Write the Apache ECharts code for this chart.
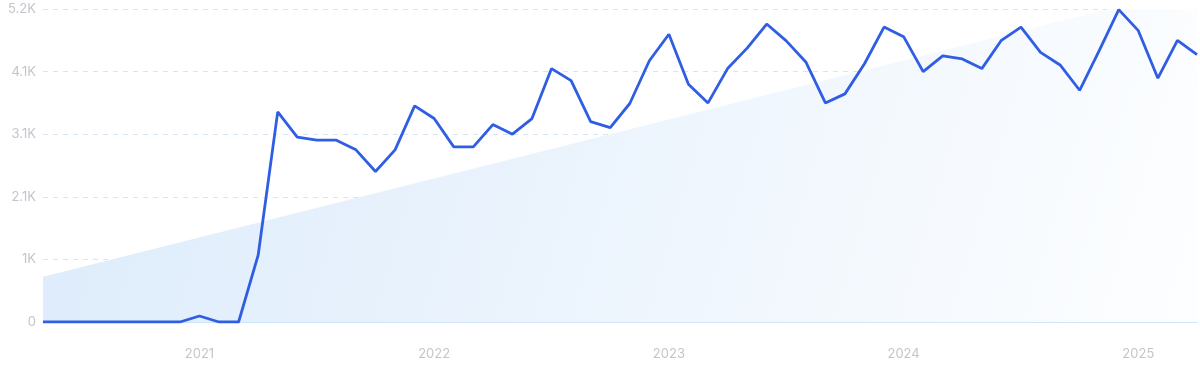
<!DOCTYPE html>
<html>
<head>
<meta charset="utf-8">
<script src="https://cdn.jsdelivr.net/npm/echarts@6/dist/echarts.min.js"></script>
<style>
html,body{margin:0;padding:0;background:#fff;}
#chart{width:1200px;height:371px;}
</style>
</head>
<body>
<div id="chart"></div>
<script>
// Monthly categories May 2020 - Apr 2025
var categories = [
  '2020-05','2020-06','2020-07','2020-08','2020-09','2020-10','2020-11','2020-12',
  '2021-01','2021-02','2021-03','2021-04','2021-05','2021-06','2021-07','2021-08','2021-09','2021-10','2021-11','2021-12',
  '2022-01','2022-02','2022-03','2022-04','2022-05','2022-06','2022-07','2022-08','2022-09','2022-10','2022-11','2022-12',
  '2023-01','2023-02','2023-03','2023-04','2023-05','2023-06','2023-07','2023-08','2023-09','2023-10','2023-11','2023-12',
  '2024-01','2024-02','2024-03','2024-04','2024-05','2024-06','2024-07','2024-08','2024-09','2024-10','2024-11','2024-12',
  '2025-01','2025-02','2025-03','2025-04'
];
var searchVolume = [
  0,0,0,0,0,0,0,0,
  100,0,0,1110,3490,3070,3020,3020,2860,2500,2860,3590,
  3380,2910,2910,3280,3120,3380,4210,4010,3330,3230,3630,4340,
  4780,3950,3640,4210,4550,4950,4670,4320,3640,3790,4290,4900,
  4740,4160,4420,4370,4210,4680,4900,4480,4270,3850,4510,5190,
  4840,4050,4680,4440
];
// Trend line end points (start and end month)
var trendPoints = [['2020-05', 750], ['2025-04', 5570]];
var yTickLabels = ['0', '1K', '2.1K', '3.1K', '4.1K', '5.2K'];
var yInterval = 1040;

var chart = echarts.init(document.getElementById('chart'));
chart.setOption({
  animation: false,
  grid: { left: 43, right: 3, top: 9, bottom: 49, containLabel: false },
  xAxis: {
    type: 'category',
    data: categories,
    boundaryGap: false,
    axisLine: { show: true, lineStyle: { color: '#cfe6fa', width: 1 } },
    axisTick: { show: false },
    splitLine: { show: false },
    axisLabel: {
      interval: function (idx, val) { return val.slice(5) === '01'; },
      formatter: function (val) { return val.slice(0, 4); },
      color: '#c4c4cc',
      fontFamily: 'Inter',
      fontSize: 13,
      margin: 26
    }
  },
  yAxis: {
    type: 'value',
    min: 0,
    max: 5200,
    interval: yInterval,
    axisLine: { show: false },
    axisTick: { show: false },
    splitLine: { show: true, lineStyle: { color: '#d4e5f7', type: [5, 5], width: 1 } },
    axisLabel: {
      formatter: function (v) { return yTickLabels[Math.round(v / yInterval)]; },
      color: '#c4c4cc',
      fontFamily: 'Inter',
      fontSize: 13,
      margin: 7
    }
  },
  series: [
    {
      type: 'line',
      data: trendPoints,
      symbol: 'none',
      silent: true,
      lineStyle: { width: 0 },
      areaStyle: {
        opacity: 1,
        color: new echarts.graphic.LinearGradient(0, 0, 1, 1, [
          { offset: 0, color: '#dcebfb' },
          { offset: 1, color: '#fdfeff' }
        ])
      },
      z: 1
    },
    {
      type: 'line',
      data: searchVolume,
      symbol: 'none',
      lineStyle: { color: '#2f5de3', width: 2.8 },
      z: 3
    }
  ]
});
</script>
</body>
</html>
